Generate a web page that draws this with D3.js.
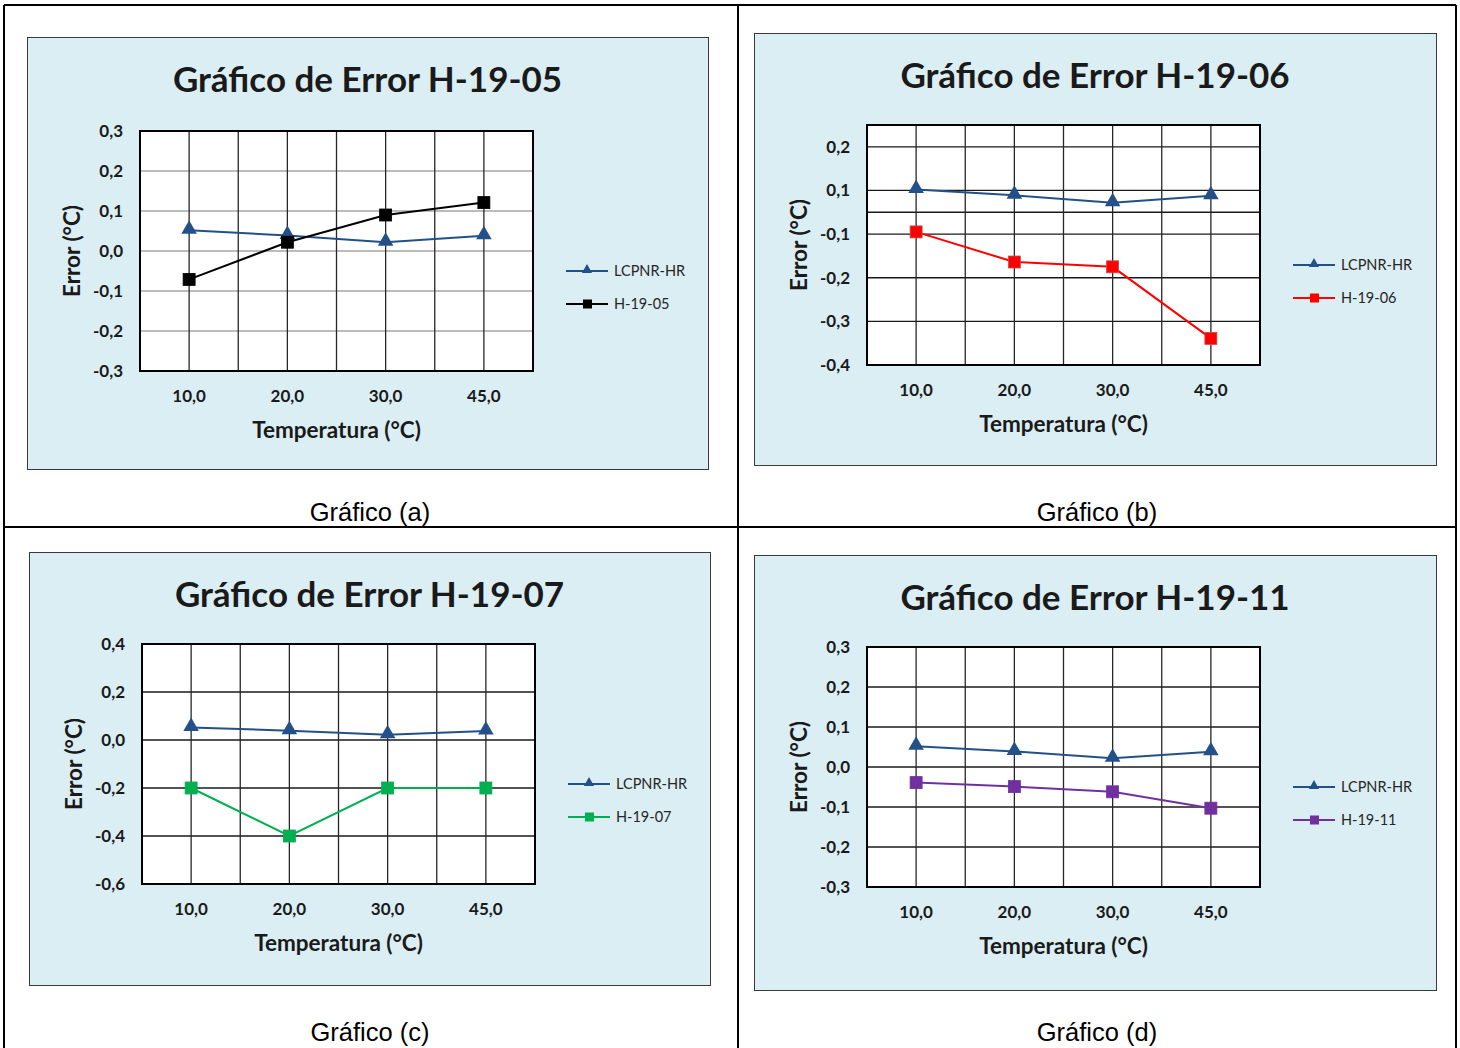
<!DOCTYPE html>
<html>
<head>
<meta charset="utf-8">
<script src="https://cdn.jsdelivr.net/npm/d3@7"></script>
<style>
  body { margin: 0; background: #fff; }
  svg { display: block; }
</style>
</head>
<body>
<svg id="chart" width="1460" height="1048"></svg>
<script>
// Values.
const categories = ["10,0", "20,0", "30,0", "45,0"];
const lcpnrHr = [0.052, 0.039, 0.022, 0.038];
const h1905 = [-0.071, 0.022, 0.09, 0.121];
const h1906 = [-0.045, -0.114, -0.125, -0.289];
const h1907 = [-0.2, -0.4, -0.2, -0.2];
const h1911 = [-0.039, -0.049, -0.062, -0.103];

const ticksA = [-0.3, -0.2, -0.1, 0, 0.1, 0.2, 0.3];
const labelsA = ["-0,3", "-0,2", "-0,1", "0,0", "0,1", "0,2", "0,3"];
// chart (b) has its ticks on the .05 values, Excel rounds the labels
const ticksB = [-0.35, -0.25, -0.15, -0.05, 0.05, 0.15];
const labelsB = ["-0,4", "-0,3", "-0,2", "-0,1", "0,1", "0,2"];
const ticksC = [-0.6, -0.4, -0.2, 0, 0.2, 0.4];
const labelsC = ["-0,6", "-0,4", "-0,2", "0,0", "0,2", "0,4"];

const BLUE = "#24508a";

const panels = [
  { box: [27, 37, 681, 432], top: 94, title: "Gráfico de Error H-19-05", caption: "Gráfico (a)",
    name: "H-19-05", values: h1905, color: "#000000", domain: [-0.3, 0.3],
    ticks: ticksA, labels: labelsA, hGrid: "#a6a6a6" },
  { box: [754, 33, 682, 432], top: 92, title: "Gráfico de Error H-19-06", caption: "Gráfico (b)",
    name: "H-19-06", values: h1906, color: "#ff0000", domain: [-0.35, 0.2],
    ticks: ticksB, labels: labelsB, hGrid: "#1a1a1a" },
  { box: [29, 552, 681, 433], top: 92, title: "Gráfico de Error H-19-07", caption: "Gráfico (c)",
    name: "H-19-07", values: h1907, color: "#00b050", domain: [-0.6, 0.4],
    ticks: ticksC, labels: labelsC, hGrid: "#1a1a1a" },
  { box: [754, 555, 682, 435], top: 92, title: "Gráfico de Error H-19-11", caption: "Gráfico (d)",
    name: "H-19-11", values: h1911, color: "#7030a0", domain: [-0.3, 0.3],
    ticks: ticksA, labels: labelsA, hGrid: "#1a1a1a" },
];
const captionPos = [[370, 521], [1097, 521], [370, 1041], [1097, 1041]];

const svg = d3.select("#chart");
const FONT = "Lato, 'Open Sans', sans-serif";

// table borders round the four cells
const table = svg.append("g").attr("stroke", "#000").attr("stroke-width", 2);
table.append("line").attr("x1", 4).attr("x2", 4).attr("y1", 5).attr("y2", 1048);
table.append("line").attr("x1", 738).attr("x2", 738).attr("y1", 5).attr("y2", 1048);
table.append("line").attr("x1", 1456).attr("x2", 1456).attr("y1", 5).attr("y2", 1048);
table.append("line").attr("x1", 4).attr("x2", 1456).attr("y1", 5).attr("y2", 5);
table.append("line").attr("x1", 4).attr("x2", 1456).attr("y1", 527).attr("y2", 527);

const triangle = d3.symbol().type(d3.symbolTriangle).size(105);

panels.forEach((p, i) => {
  const [bx, by, bw, bh] = p.box;
  const g = svg.append("g").attr("transform", `translate(${bx},${by})`);

  g.append("rect")
    .attr("x", 0.5).attr("y", 0.5)
    .attr("width", bw).attr("height", bh)
    .attr("fill", "#dbeef4")
    .attr("stroke", "#3a3a3a")
    .attr("stroke-width", 1);

  g.append("text")
    .attr("x", bw / 2).attr("y", 55)
    .attr("text-anchor", "middle")
    .attr("font-family", FONT)
    .attr("font-weight", "bold")
    .attr("font-size", 35)
    .attr("fill", "#1a1a1a")
    .text(p.title);

  const left = 113, top = p.top, width = 393, height = 240;
  const x = d3.scaleBand().domain(categories).range([left, left + width]);
  const y = d3.scaleLinear().domain(p.domain).range([top + height, top]);
  const cx = (c) => x(c) + x.bandwidth() / 2;

  g.append("rect")
    .attr("x", left).attr("y", top)
    .attr("width", width).attr("height", height)
    .attr("fill", "#fff");

  // horizontal gridlines, plus the zero line where the axis crosses
  const hLines = p.ticks.concat(p.ticks.includes(0) ? [] : [0]);
  g.append("g").selectAll("line").data(hLines).join("line")
    .attr("x1", left).attr("x2", left + width)
    .attr("y1", (d) => y(d)).attr("y2", (d) => y(d))
    .attr("stroke", p.hGrid)
    .attr("stroke-width", 1.3);

  // vertical lines on category edges and centers
  const vLines = [];
  categories.forEach((c) => { vLines.push(x(c)); vLines.push(cx(c)); });
  g.append("g").selectAll("line").data(vLines.slice(1)).join("line")
    .attr("x1", (d) => d).attr("x2", (d) => d)
    .attr("y1", top).attr("y2", top + height)
    .attr("stroke", "#262626")
    .attr("stroke-width", 1.3);

  g.append("rect")
    .attr("x", left).attr("y", top)
    .attr("width", width).attr("height", height)
    .attr("fill", "none")
    .attr("stroke", "#000")
    .attr("stroke-width", 2);

  // y tick labels
  g.append("g").selectAll("text").data(p.ticks).join("text")
    .attr("x", left - 17)
    .attr("y", (d) => y(d) + 6)
    .attr("text-anchor", "end")
    .attr("font-family", FONT)
    .attr("font-weight", "bold")
    .attr("font-size", 17)
    .attr("fill", "#1a1a1a")
    .text((d, k) => p.labels[k]);

  // x tick labels
  g.append("g").selectAll("text").data(categories).join("text")
    .attr("x", (d) => cx(d))
    .attr("y", top + height + 31)
    .attr("text-anchor", "middle")
    .attr("font-family", FONT)
    .attr("font-weight", "bold")
    .attr("font-size", 17)
    .attr("fill", "#1a1a1a")
    .text((d) => d);

  g.append("text")
    .attr("x", left + width / 2)
    .attr("y", top + height + 67)
    .attr("text-anchor", "middle")
    .attr("font-family", FONT)
    .attr("font-weight", "bold")
    .attr("font-size", 22.5)
    .attr("fill", "#1a1a1a")
    .text("Temperatura (°C)");

  g.append("text")
    .attr("transform", `translate(${left - 60},${top + height / 2}) rotate(-90)`)
    .attr("text-anchor", "middle")
    .attr("font-family", FONT)
    .attr("font-weight", "bold")
    .attr("font-size", 22.5)
    .attr("fill", "#1a1a1a")
    .text("Error (°C)");

  const line = d3.line().x((d, k) => cx(categories[k])).y((d) => y(d));

  // reference series
  g.append("path")
    .attr("d", line(lcpnrHr))
    .attr("fill", "none")
    .attr("stroke", BLUE)
    .attr("stroke-width", 2);
  g.append("g").selectAll("path").data(lcpnrHr).join("path")
    .attr("d", triangle)
    .attr("transform", (d, k) => `translate(${cx(categories[k])},${y(d) - 1})`)
    .attr("fill", BLUE);

  // sensor series
  g.append("path")
    .attr("d", line(p.values))
    .attr("fill", "none")
    .attr("stroke", p.color)
    .attr("stroke-width", 2);
  g.append("g").selectAll("rect").data(p.values).join("rect")
    .attr("x", (d, k) => cx(categories[k]) - 6)
    .attr("y", (d) => y(d) - 6)
    .attr("width", 12).attr("height", 12)
    .attr("fill", p.color)
    .attr("stroke", p.color === "#ff0000" ? "#c0504d" : p.color)
    .attr("stroke-width", 0.8);

  // legend
  const lx = left + width + 33;
  const ly = top + height / 2;
  const legend = [
    { name: "LCPNR-HR", color: BLUE, tri: true },
    { name: p.name, color: p.color, tri: false },
  ];
  legend.forEach((l, k) => {
    const yy = ly + 20 + k * 33;
    g.append("line")
      .attr("x1", lx).attr("x2", lx + 42)
      .attr("y1", yy).attr("y2", yy)
      .attr("stroke", l.color).attr("stroke-width", 2);
    if (l.tri) {
      g.append("path")
        .attr("d", d3.symbol().type(d3.symbolTriangle).size(45)())
        .attr("transform", `translate(${lx + 21},${yy - 1})`)
        .attr("fill", l.color);
    } else {
      g.append("rect")
        .attr("x", lx + 17).attr("y", yy - 4.5)
        .attr("width", 9).attr("height", 9)
        .attr("fill", l.color);
    }
    g.append("text")
      .attr("x", lx + 48).attr("y", yy + 5)
      .attr("font-family", FONT)
      .attr("font-size", 14.5)
      .attr("fill", "#262626")
      .text(l.name);
  });

  svg.append("text")
    .attr("x", captionPos[i][0]).attr("y", captionPos[i][1])
    .attr("text-anchor", "middle")
    .attr("font-family", "'Liberation Sans', Arial, sans-serif")
    .attr("font-size", 25.5)
    .attr("fill", "#000")
    .text(p.caption);
});
</script>
</body>
</html>
